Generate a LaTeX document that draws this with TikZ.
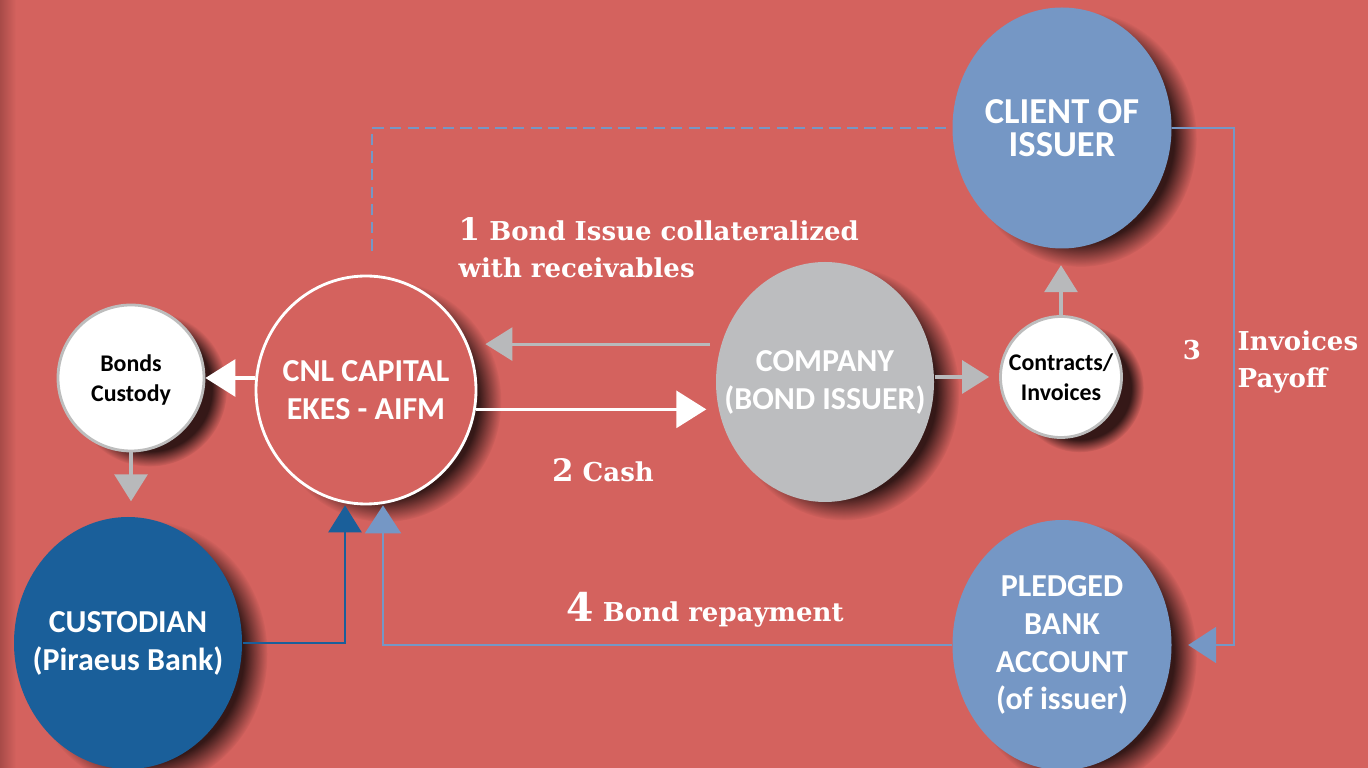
\documentclass[tikz,border=0pt]{standalone}
\usepackage{fontspec}
\setsansfont{Carlito}
\newfontfamily\labfont{DejaVu Serif}
\usetikzlibrary{arrows.meta,shapes.geometric,shadows,fadings}
\definecolor{bgred}{HTML}{D4625E}
\definecolor{bgedge}{HTML}{A84B48}
\definecolor{compgray}{HTML}{BCBDBF}
\definecolor{arrgray}{HTML}{B8B9BB}
\definecolor{darkblue}{HTML}{1A5F9A}
\definecolor{lightblue}{HTML}{7597C5}
\definecolor{rimgray}{HTML}{BDBDBD}
\newcommand\stepno[2][8.8]{{\fontsize{#1}{#1}\selectfont #2}}
\tikzset{
  softshadow/.style={general shadow={shadow scale=1.06,shadow xshift=5pt,shadow yshift=-3pt,
    fill=black,opacity=.75,path fading={circle with fuzzy edge 20 percent}}},
  party/.style={ellipse,inner ysep=0pt,inner xsep=-0.6cm,align=center,text=white,softshadow,
    font=\sffamily\bfseries\fontsize{9.1}{10.8}\selectfont},
  doc/.style={circle,fill=white,draw=rimgray,line width=0.8pt,inner sep=0pt,align=center,
    softshadow,font=\sffamily\bfseries\fontsize{6.8}{8.6}\selectfont},
  flow/.style={text=white,inner sep=0pt,font=\labfont\bfseries\fontsize{7.4}{10.5}\selectfont},
  wflow/.style={draw=white,line width=0.9pt,-{Triangle[width=0.37cm,length=0.3cm]}},
  gflow/.style={draw=arrgray,line width=0.9pt,-{Triangle[width=0.33cm,length=0.27cm]}},
  dbflow/.style={draw=darkblue,line width=0.85pt,-{Triangle[width=0.33cm,length=0.27cm]}},
  lbflow/.style={draw=lightblue,line width=0.6pt,-{Triangle[width=0.36cm,length=0.28cm]}}
}
\begin{document}
\begin{tikzpicture}
\useasboundingbox (0,0) rectangle (13.68,7.68);
\fill[bgred] (0,0) rectangle (13.68,7.68);
\shade[left color=bgedge,right color=bgred] (0,0) rectangle (0.16,7.68);

\node[doc,minimum size=1.46cm,text depth=-0.12cm] (bonds) at (1.31,3.90) {Bonds\\Custody};
\node[party,draw=white,line width=0.8pt,fill=bgred,minimum width=2.2cm,minimum height=2.28cm] (cnl) at (3.66,3.78) {CNL CAPITAL\\EKES - AIFM};
\node[party,fill=darkblue,minimum width=2.28cm,minimum height=2.52cm] (cust) at (1.28,1.25) {CUSTODIAN\\(Piraeus Bank)};
\node[party,fill=compgray,minimum width=2.18cm,minimum height=2.4cm] (comp) at (8.25,3.86) {COMPANY\\(BOND ISSUER)};
\node[doc,minimum size=1.21cm] (contr) at (10.61,3.91) {Contracts/\\Invoices};
\node[party,fill=lightblue,minimum width=2.19cm,minimum height=2.41cm,font=\sffamily\bfseries\fontsize{10.4}{9.2}\selectfont] (client) at (10.62,6.40) {CLIENT OF\\ISSUER};
\node[party,fill=lightblue,minimum width=2.19cm,minimum height=2.5cm] (pledged) at (10.62,1.23) {PLEDGED\\BANK\\ACCOUNT\\(of issuer)};

\draw[wflow] (bonds.east -| cnl.west) -- (bonds.east);
\draw[gflow,shorten >=0.15cm] (bonds.south) -- (bonds.south |- cust.north);
\draw[gflow,shorten <=0.11cm,shorten >=0.08cm] (comp.160) -- (comp.160 -| cnl.east);
\draw[wflow,shorten >=0.09cm] (cnl.-10) -- (cnl.-10 -| comp.west);
\draw[gflow,shorten >=0.1cm] (contr.west -| comp.east) -- (contr.west);
\draw[gflow,shorten >=0.16cm] (contr.north) -- (contr.north |- client.south);
\draw[lbflow,shorten >=0.16cm] (client.east) -- ++(0.62,0) |- (pledged.east);
\draw[dbflow] (cust.east) -| ([xshift=-0.21cm]cnl.south);
\draw[lbflow] (pledged.west) -| ([xshift=0.17cm]cnl.south);
\draw[lightblue,line width=0.6pt,dash pattern=on 3.2pt off 1.8pt] ([xshift=0.06cm,yshift=0.24cm]cnl.north) |- (client.west);

\node[flow,anchor=west,align=left] (issue) at (4.58,5.20) {\stepno{1} Bond Issue collateralized\\with receivables};
\node[flow] (cash) at (6.03,2.98) {\stepno{2} Cash};
\node[flow] (three) at (11.92,4.18) {3};
\node[flow,anchor=west,align=left] (payoff) at (12.37,4.06) {Invoices\\Payoff};
\node[flow] (repay) at (7.05,1.58) {\stepno[11.2]{4} Bond repayment};
\end{tikzpicture}
\end{document}
